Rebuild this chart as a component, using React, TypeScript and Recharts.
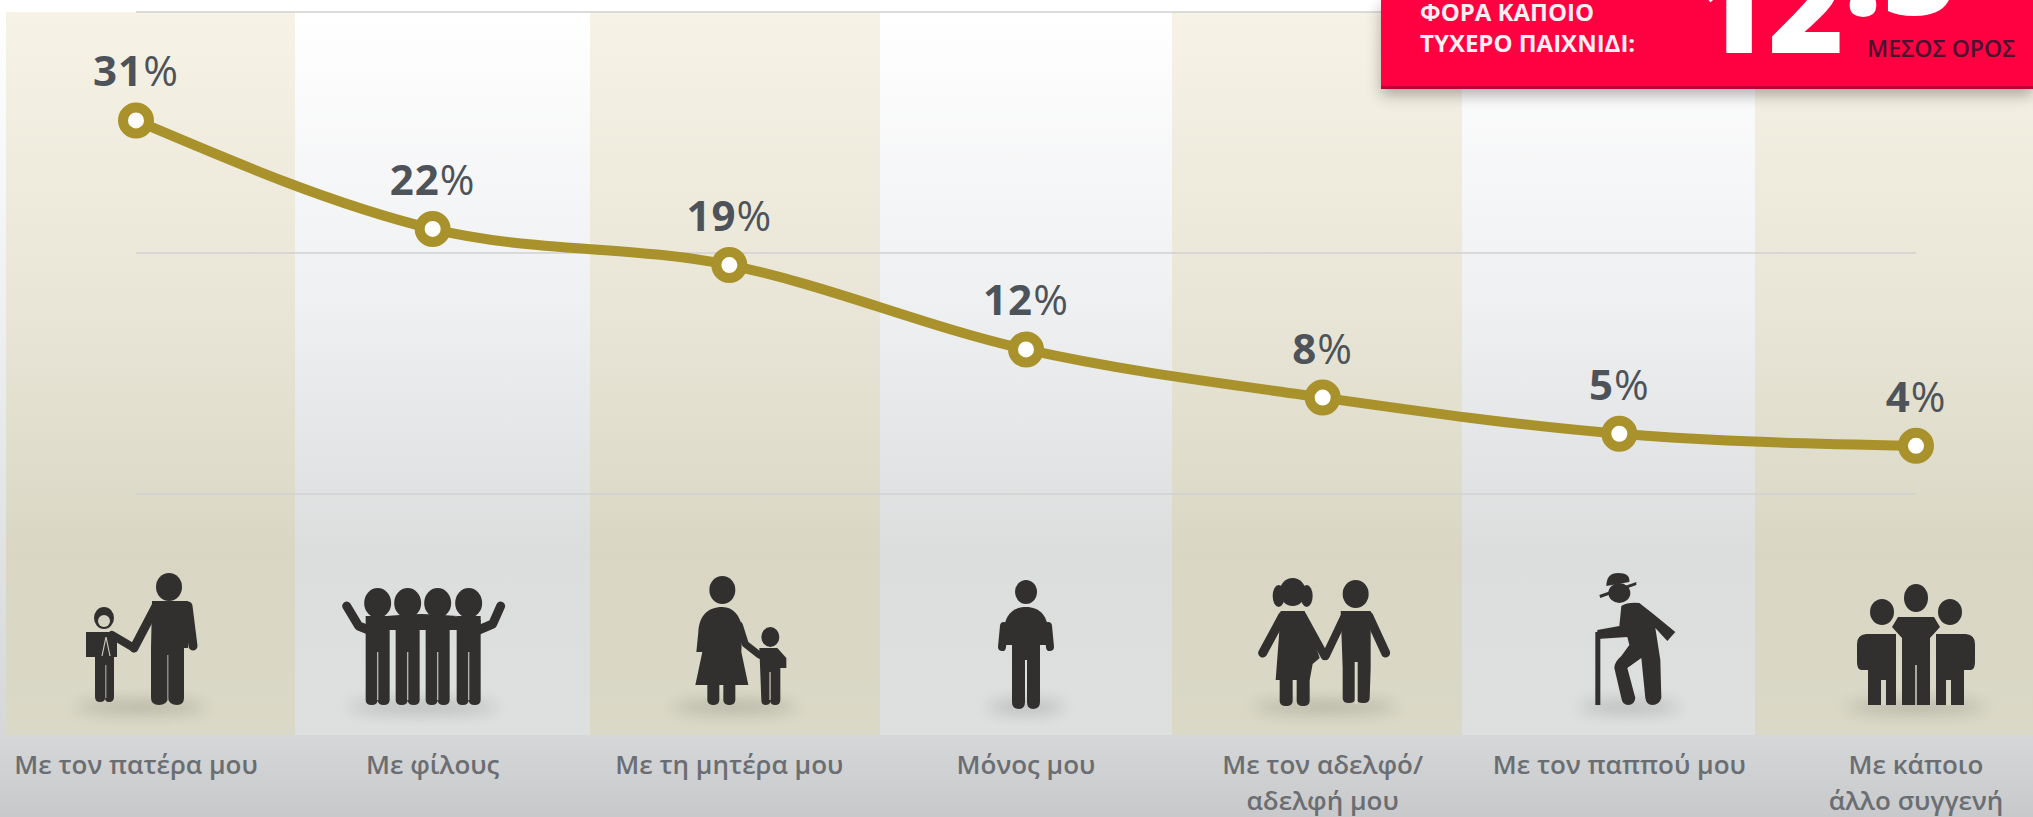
import { LineChart, Line, XAxis, YAxis, CartesianGrid } from 'recharts'

const categories = [
  'Με τον πατέρα μου',
  'Με φίλους',
  'Με τη μητέρα μου',
  'Μόνος μου',
  'Με τον αδελφό/\nαδελφή μου',
  'Με τον παππού μου',
  'Με κάποιο\nάλλο συγγενή',
]
const shares = [31, 22, 19, 12, 8, 5, 4]
const yTicks = [0, 20, 40]
const calloutLines = ['ΦΟΡΑ ΚΑΠΟΙΟ', 'ΤΥΧΕΡΟ ΠΑΙΧΝΙΔΙ:']
const calloutWhole = '12'
const calloutFraction = '.5'
const calloutCaption = 'ΜΕΣΟΣ ΟΡΟΣ'

const data = categories.map((name, i) => ({ name, share: shares[i] }))

const FONT = '"Open Sans", sans-serif'
const ICON = '#32302f'
const GOLD = '#a9922c'
const TAN = 'linear-gradient(#f6f3e6 0px, #e9e6d8 290px, #d9d7c4 540px, #dad8c6 723px)'
const PALE = 'linear-gradient(#ffffff 0px, #eff0f2 290px, #dcdddd 540px, #dedfdf 723px)'

// left edge + width of the column stripes behind the chart
const stripes = [
  [6, 289, TAN],
  [295, 295, PALE],
  [590, 290, TAN],
  [880, 292, PALE],
  [1172, 290, TAN],
  [1462, 293, PALE],
  [1755, 278, TAN],
] as const

function Limb({ d, w = 10 }: { d: string; w?: number }) {
  return <path d={d} fill="none" stroke={ICON} strokeWidth={w} strokeLinecap="round" strokeLinejoin="round" />
}

function Head({ x, y, rx = 13, ry = 14 }: { x: number; y: number; rx?: number; ry?: number }) {
  return <ellipse cx={x} cy={y} rx={rx} ry={ry} fill={ICON} />
}

function Floor({ x, rx }: { x: number; rx: number }) {
  return <ellipse cx={x} cy={167} rx={rx} ry={5} fill="#000" opacity={0.22} style={{ filter: 'blur(8px)' }} />
}

function FatherIcon() {
  return (
    <g>
      <Floor x={5} rx={65} />
      <Head x={33} y={47} />
      <path d="M16 61 H52 L52 108 L48 108 V158 Q48 165 41 165 Q33 165 32 158 Q31 165 23 165 Q15 165 15 158 V108 Z" fill={ICON} />
      <Limb d="M52 66 L57 106" w={9} />
      <Limb d="M20 66 L-2 108" w={9} />
      <rect x={31} y={115} width={1.5} height={44} fill="#8a8a80" />
      <Head x={-32} y={78} rx={10} ry={11} />
      <ellipse cx={-32} cy={81} rx={6} ry={6} fill="#d4d2c0" />
      <path d="M-50 92 H-24 L-19 102 V117 H-22 V157 Q-22 162 -27 162 Q-31 162 -31 158 Q-31 162 -36 162 Q-41 162 -41 157 V117 H-50 Z" fill={ICON} />
      <Limb d="M-24 95 L-2 108" w={8} />
      <rect x={-31} y={125} width={1.5} height={33} fill="#8a8a80" />
      <path d="M-34 116 L-30 97 L-26 116" stroke="#c9c7b6" fill="none" strokeWidth={1.2} />
    </g>
  )
}

function FriendsIcon() {
  const centers = [-55, -25, 5, 36]
  return (
    <g>
      <Floor x={-10} rx={75} />
      <path d="M-66 80 Q-15 68 48 80 V90 H-66 Z" fill={ICON} />
      {centers.map(c => (
        <g key={c}>
          <Head x={c} y={63} rx={13.5} ry={15} />
          <path d={`M${c - 12} 76 H${c + 12} V160 Q${c + 12} 165 ${c + 6} 165 Q${c} 165 ${c} 160 Q${c} 165 ${c - 6} 165 Q${c - 12} 165 ${c - 12} 160 Z`} fill={ICON} />
          <rect x={c - 0.7} y={112} width={1.4} height={48} fill="#b0b0b0" />
        </g>
      ))}
      <Limb d="M-86 66 L-74 86 L-64 90" w={9} />
      <Limb d="M68 66 L60 84 L46 90" w={9} />
    </g>
  )
}

function MotherIcon() {
  return (
    <g>
      <Floor x={5} rx={62} />
      <Head x={-7} y={50} />
      <path d="M-7 67 C-22 67 -30 76 -31 92 L-33 112 L-27 112 L-34 145 H19 L12 112 L13 88 C11 76 4 67 -7 67 Z" fill={ICON} />
      <Limb d="M10 85 L16 104 L30 115" w={7} />
      <rect x={-22} y={140} width={12} height={25} rx={5} fill={ICON} />
      <rect x={-6} y={140} width={12} height={25} rx={5} fill={ICON} />
      <Head x={41} y={97} rx={9} ry={10} />
      <path d="M30 108 H48 L57 118 L57 128 L51 128 V160 Q51 165 46 165 Q41 165 41 161 Q41 165 36 165 Q32 165 32 160 Z" fill={ICON} />
      <rect x={40} y={132} width={1.4} height={28} fill="#bdbba9" />
    </g>
  )
}

function AloneIcon() {
  return (
    <g>
      <Floor x={0} rx={38} />
      <Head x={0} y={52} rx={11} ry={12} />
      <path d="M0 67 C-14 67 -22 76 -22 92 V105 H22 V92 C22 76 14 67 0 67 Z" fill={ICON} />
      <Limb d="M-22 86 L-24 107" w={8} />
      <Limb d="M22 86 L24 107" w={8} />
      <path d="M-14 80 H14 V162 Q14 169 7 169 Q1 169 1 162 V120 H-1 V162 Q-1 169 -7 169 Q-14 169 -14 162 Z" fill={ICON} />
    </g>
  )
}

function SiblingsIcon() {
  return (
    <g>
      <Floor x={2} rx={72} />
      <Head x={-30} y={52} />
      <ellipse cx={-44} cy={56} rx={6} ry={11} fill={ICON} />
      <ellipse cx={-16} cy={56} rx={6} ry={11} fill={ICON} />
      <path d="M-42 71 H-18 L-3 118 L-10 124 L-13 140 H-47 L-44 100 Z" fill={ICON} />
      <Limb d="M-40 76 L-60 113" w={9} />
      <Limb d="M-20 76 L2 116" w={8} />
      <rect x={-43} y={136} width={13} height={30} rx={5} fill={ICON} />
      <rect x={-26} y={136} width={13} height={30} rx={5} fill={ICON} />
      <Head x={33} y={54} />
      <path d="M18 71 H48 V128 L47 158 Q47 163 41 163 Q33 163 33 158 Q33 163 26 163 Q20 163 20 158 V128 Z" fill={ICON} />
      <Limb d="M22 76 L3 116" w={8} />
      <Limb d="M46 76 L63 113" w={9} />
      <rect x={32} y={122} width={3} height={42} fill="#d8d6c4" />
    </g>
  )
}

function GrandpaIcon() {
  return (
    <g>
      <Floor x={10} rx={50} />
      <Head x={0} y={53} rx={11} ry={10} />
      <path d="M-13 46 Q-13 33 -1 33 Q11 33 10 42 Z" fill={ICON} />
      <path d="M-20 55 L17 42 L17 45 L-19 58 Z" fill={ICON} />
      <path
        d="M2 66 Q8 62 20 63 L34 74 L56 92 L48 101 L36 88 L41 120 L42 158 Q40 165 33 165 Q27 165 26 158 L22 118 L8 128 L16 158 Q15 165 9 165 Q3 165 2 158 L-5 128 Q-5 122 2 116 L10 105 L8 97 L-22 99 L-22 90 L0 86 Z"
        fill={ICON}
      />
      <rect x={-24} y={92} width={5} height={73} fill={ICON} />
    </g>
  )
}

function RelativesIcon() {
  return (
    <g>
      <Floor x={0} rx={70} />
      <Head x={0} y={58} rx={12} ry={14} />
      <Head x={-34} y={72} rx={12} ry={13} />
      <Head x={34} y={72} rx={12} ry={13} />
      <path d="M-18 77 H18 L24 87 L14 98 V165 H-14 V98 L-24 87 Z" fill={ICON} />
      <rect x={-0.8} y={125} width={1.6} height={40} fill="#c9c7b6" />
      <path d="M-50 94 H-20 V165 H-48 V130 L-55 130 Q-59 129 -59 122 V104 Q-59 95 -50 94 Z" fill={ICON} />
      <path d="M50 94 H20 V165 H48 V130 L55 130 Q59 129 59 122 V104 Q59 95 50 94 Z" fill={ICON} />
      <rect x={-35} y={140} width={5} height={25} fill="#d6d4c2" />
      <rect x={30} y={140} width={5} height={25} fill="#d6d4c2" />
    </g>
  )
}

const icons = [FatherIcon, FriendsIcon, MotherIcon, AloneIcon, SiblingsIcon, GrandpaIcon, RelativesIcon]

function CategoryTick({ x, y, payload, index }: any) {
  const Icon = icons[index]
  const base = y - 502 // tick y sits a few px under the plot bottom
  const lines = String(payload.value).split('\n')
  return (
    <g>
      <g transform={`translate(${x},${540 + base})`}>
        <Icon />
      </g>
      {lines.map((line, i) => (
        <text
          key={i}
          x={x}
          y={774 + base + i * 36}
          textAnchor="middle"
          fontFamily={FONT}
          fontSize={26}
          fontWeight={600}
          fill="#6a6e72"
        >
          {line}
        </text>
      ))}
    </g>
  )
}

function ShareLabel({ x, y, value }: any) {
  return (
    <text x={x} y={y - 34} textAnchor="middle" fontFamily={FONT} fontSize={42} letterSpacing={1} fill="#4d5358">
      <tspan fontWeight={700}>{value}</tspan>
      <tspan fontWeight={400}>%</tspan>
    </text>
  )
}

function Callout() {
  return (
    <div
      style={{
        position: 'absolute',
        left: 1381,
        top: 0,
        width: 652,
        height: 86,
        background: '#ff0040',
        borderBottom: '3px solid #bd0038',
        boxShadow: '0 6px 14px rgba(0,0,0,0.3)',
        overflow: 'hidden',
      }}
    >
      <svg width={652} height={86} style={{ display: 'block' }}>
        {calloutLines.map((line, i) => (
          <text key={i} x={39} y={21 + i * 31} fontFamily={FONT} fontSize={24} fontWeight={700} fill="#fdeef2">
            {line}
          </text>
        ))}
        <text x={311} y={53} fontFamily={FONT} fontSize={130} fontWeight={800} fill="#fff">
          <tspan>{calloutWhole}</tspan>
          <tspan dy={-38}>{calloutFraction}</tspan>
        </text>
        <text x={486} y={57} fontFamily={FONT} fontSize={23} fontWeight={600} fill="#4a1030">
          {calloutCaption}
        </text>
      </svg>
    </div>
  )
}

export default function App() {
  return (
    <div
      style={{
        position: 'absolute',
        left: 0,
        top: 0,
        width: 2033,
        height: 817,
        overflow: 'hidden',
        background: 'linear-gradient(#ffffff 0px, #ffffff 12px, #f0f1f2 290px, #d6d7d9 735px, #c8c9cb 817px)',
      }}
    >
      {stripes.map(([left, width, background]) => (
        <div key={left} style={{ position: 'absolute', left, top: 12, width, height: 723, background }} />
      ))}
      <div style={{ position: 'absolute', left: 0, top: 0 }}>
        <LineChart width={2033} height={817} data={data} margin={{ top: 12, right: 117, bottom: 0, left: 136 }}>
          <CartesianGrid vertical={false} stroke="#d0d0d0" strokeWidth={1.5} />
          <YAxis hide domain={[0, 40]} ticks={yTicks} />
          <XAxis
            dataKey="name"
            height={323}
            interval={0}
            axisLine={false}
            tickLine={false}
            tick={<CategoryTick />}
          />
          <Line
            type="monotone"
            dataKey="share"
            stroke={GOLD}
            strokeWidth={10}
            dot={{ r: 13, fill: '#fff', stroke: GOLD, strokeWidth: 10 }}
            label={<ShareLabel />}
            isAnimationActive={false}
          />
        </LineChart>
      </div>
      <Callout />
    </div>
  )
}
